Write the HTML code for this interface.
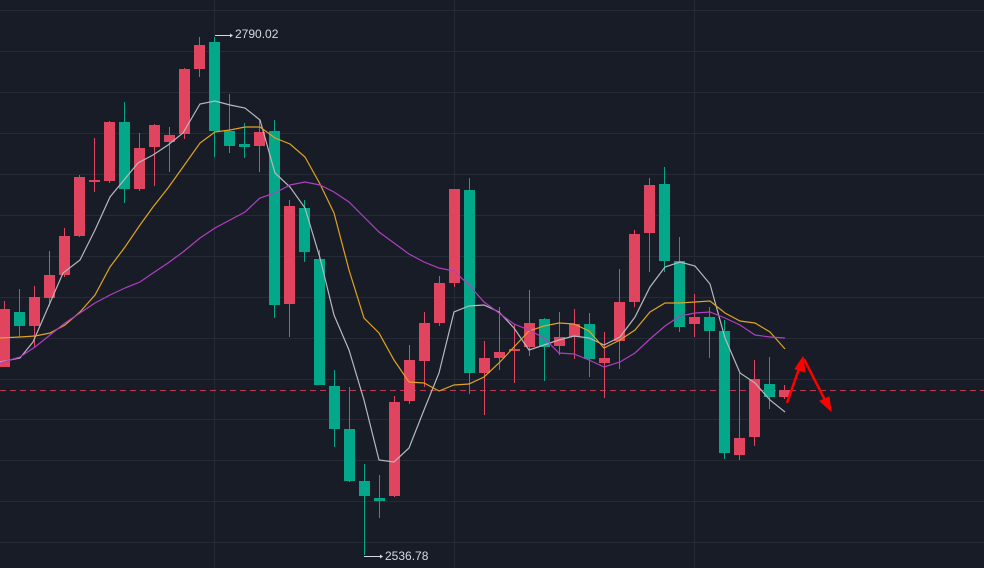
<!DOCTYPE html>
<html><head><meta charset="utf-8"><style>
html,body{margin:0;padding:0;background:#171c27;}
svg{display:block;}
text{font-family:"Liberation Sans",sans-serif;font-size:12px;fill:#d6d9de;}
</style></head><body>
<svg width="984" height="568" viewBox="0 0 984 568" xmlns="http://www.w3.org/2000/svg">
<rect width="984" height="568" fill="#171c27"/>
<g stroke="#242a36" stroke-width="1">
<line x1="0" y1="10.5" x2="984" y2="10.5"/><line x1="0" y1="51.5" x2="984" y2="51.5"/>
<line x1="0" y1="92.5" x2="984" y2="92.5"/><line x1="0" y1="133.5" x2="984" y2="133.5"/>
<line x1="0" y1="174.5" x2="984" y2="174.5"/><line x1="0" y1="215.5" x2="984" y2="215.5"/>
<line x1="0" y1="256.5" x2="984" y2="256.5"/><line x1="0" y1="297.5" x2="984" y2="297.5"/>
<line x1="0" y1="338.5" x2="984" y2="338.5"/><line x1="0" y1="379.5" x2="984" y2="379.5"/>
<line x1="0" y1="419.5" x2="984" y2="419.5"/><line x1="0" y1="460.5" x2="984" y2="460.5"/>
<line x1="0" y1="501.5" x2="984" y2="501.5"/><line x1="0" y1="542.5" x2="984" y2="542.5"/>
<line x1="214.5" y1="0" x2="214.5" y2="568"/><line x1="454.5" y1="0" x2="454.5" y2="568"/>
<line x1="694.5" y1="0" x2="694.5" y2="568"/>
</g>
<line x1="0" y1="390.5" x2="984" y2="390.5" stroke="#b8394f" stroke-width="1" stroke-dasharray="6,4"/>
<g fill="#e0445f" stroke="#e0445f">
<line x1="4.5" y1="301" x2="4.5" y2="367"/><rect x="-1" y="309" width="11" height="58" stroke="none"/>
<line x1="34.5" y1="286" x2="34.5" y2="348"/><rect x="29" y="297" width="11" height="29" stroke="none"/>
<line x1="49.5" y1="251" x2="49.5" y2="306"/><rect x="44" y="275" width="11" height="23" stroke="none"/>
<line x1="64.5" y1="228" x2="64.5" y2="277"/><rect x="59" y="236" width="11" height="39" stroke="none"/>
<line x1="79.5" y1="175" x2="79.5" y2="237"/><rect x="74" y="177" width="11" height="59" stroke="none"/>
<line x1="94.5" y1="138" x2="94.5" y2="192"/><rect x="89" y="180" width="11" height="2" stroke="none"/>
<line x1="109.5" y1="121" x2="109.5" y2="183"/><rect x="104" y="122" width="11" height="59" stroke="none"/>
<line x1="139.5" y1="133" x2="139.5" y2="191"/><rect x="134" y="148" width="11" height="41" stroke="none"/>
<line x1="154.5" y1="124" x2="154.5" y2="186"/><rect x="149" y="125" width="11" height="22" stroke="none"/>
<line x1="169.5" y1="127" x2="169.5" y2="172"/><rect x="164" y="135" width="11" height="7" stroke="none"/>
<line x1="184.5" y1="68" x2="184.5" y2="139"/><rect x="179" y="69" width="11" height="65" stroke="none"/>
<line x1="199.5" y1="37" x2="199.5" y2="77"/><rect x="194" y="45" width="11" height="24" stroke="none"/>
<line x1="259.5" y1="120" x2="259.5" y2="172"/><rect x="254" y="132" width="11" height="14" stroke="none"/>
<line x1="289.5" y1="200" x2="289.5" y2="337"/><rect x="284" y="206" width="11" height="98" stroke="none"/>
<line x1="394.5" y1="396" x2="394.5" y2="497"/><rect x="389" y="402" width="11" height="94" stroke="none"/>
<line x1="409.5" y1="345" x2="409.5" y2="404"/><rect x="404" y="360" width="11" height="41" stroke="none"/>
<line x1="424.5" y1="312" x2="424.5" y2="387"/><rect x="419" y="323" width="11" height="38" stroke="none"/>
<line x1="439.5" y1="276" x2="439.5" y2="326"/><rect x="434" y="283" width="11" height="40" stroke="none"/>
<line x1="454.5" y1="189" x2="454.5" y2="287"/><rect x="449" y="189" width="11" height="94" stroke="none"/>
<line x1="484.5" y1="341" x2="484.5" y2="415"/><rect x="479" y="358" width="11" height="15" stroke="none"/>
<line x1="499.5" y1="307" x2="499.5" y2="370"/><rect x="494" y="352" width="11" height="6" stroke="none"/>
<line x1="514.5" y1="324" x2="514.5" y2="383"/><rect x="509" y="349" width="11" height="2" stroke="none"/>
<line x1="529.5" y1="290" x2="529.5" y2="356"/><rect x="524" y="323" width="11" height="24" stroke="none"/>
<line x1="559.5" y1="312" x2="559.5" y2="355"/><rect x="554" y="337" width="11" height="9" stroke="none"/>
<line x1="574.5" y1="309" x2="574.5" y2="359"/><rect x="569" y="324" width="11" height="13" stroke="none"/>
<line x1="604.5" y1="332" x2="604.5" y2="398"/><rect x="599" y="358" width="11" height="5" stroke="none"/>
<line x1="619.5" y1="269" x2="619.5" y2="369"/><rect x="614" y="302" width="11" height="39" stroke="none"/>
<line x1="634.5" y1="230" x2="634.5" y2="307"/><rect x="629" y="234" width="11" height="68" stroke="none"/>
<line x1="649.5" y1="178" x2="649.5" y2="272"/><rect x="644" y="185" width="11" height="48" stroke="none"/>
<line x1="694.5" y1="294" x2="694.5" y2="337"/><rect x="689" y="317" width="11" height="7" stroke="none"/>
<line x1="739.5" y1="373" x2="739.5" y2="460"/><rect x="734" y="438" width="11" height="17" stroke="none"/>
<line x1="754.5" y1="360" x2="754.5" y2="446"/><rect x="749" y="379" width="11" height="58" stroke="none"/>
<line x1="784.5" y1="385" x2="784.5" y2="399"/><rect x="779" y="390" width="11" height="7" stroke="none"/>
</g>
<g fill="#03a88a" stroke="#03a88a">
<line x1="19.5" y1="289" x2="19.5" y2="337"/><rect x="14" y="312" width="11" height="14" stroke="none"/>
<line x1="124.5" y1="102" x2="124.5" y2="203"/><rect x="119" y="122" width="11" height="67" stroke="none"/>
<line x1="214.5" y1="37" x2="214.5" y2="157"/><rect x="209" y="42" width="11" height="89" stroke="none"/>
<line x1="229.5" y1="94" x2="229.5" y2="153"/><rect x="224" y="131" width="11" height="15" stroke="none"/>
<line x1="244.5" y1="123" x2="244.5" y2="158"/><rect x="239" y="144" width="11" height="3" stroke="none"/>
<line x1="274.5" y1="120" x2="274.5" y2="318"/><rect x="269" y="131" width="11" height="174" stroke="none"/>
<line x1="304.5" y1="200" x2="304.5" y2="262"/><rect x="299" y="208" width="11" height="44" stroke="none"/>
<line x1="319.5" y1="250" x2="319.5" y2="385"/><rect x="314" y="259" width="11" height="126" stroke="none"/>
<line x1="334.5" y1="370" x2="334.5" y2="447"/><rect x="329" y="386" width="11" height="43" stroke="none"/>
<line x1="349.5" y1="387" x2="349.5" y2="482"/><rect x="344" y="429" width="11" height="52" stroke="none"/>
<line x1="364.5" y1="464" x2="364.5" y2="555"/><rect x="359" y="481" width="11" height="15" stroke="none"/>
<line x1="379.5" y1="475" x2="379.5" y2="518"/><rect x="374" y="498" width="11" height="3" stroke="none"/>
<line x1="469.5" y1="178" x2="469.5" y2="394"/><rect x="464" y="190" width="11" height="183" stroke="none"/>
<line x1="544.5" y1="318" x2="544.5" y2="381"/><rect x="539" y="319" width="11" height="28" stroke="none"/>
<line x1="589.5" y1="313" x2="589.5" y2="377"/><rect x="584" y="324" width="11" height="35" stroke="none"/>
<line x1="664.5" y1="167" x2="664.5" y2="272"/><rect x="659" y="184" width="11" height="77" stroke="none"/>
<line x1="679.5" y1="237" x2="679.5" y2="332"/><rect x="674" y="261" width="11" height="66" stroke="none"/>
<line x1="709.5" y1="307" x2="709.5" y2="358"/><rect x="704" y="317" width="11" height="14" stroke="none"/>
<line x1="724.5" y1="320" x2="724.5" y2="459"/><rect x="719" y="331" width="11" height="122" stroke="none"/>
<line x1="769.5" y1="357" x2="769.5" y2="409"/><rect x="764" y="384" width="11" height="13" stroke="none"/>
</g>
<polyline fill="none" stroke="#b6b8bd" stroke-width="1.2" points="0,362 20,358 33,342 63,273 80,260 95,230 110,197 138,163 153,155 168,145 183,133 200,104 215,101 230,105 245,108 260,120 275,173 290,187 305,208 320,258 334,315 349,350 364,400 379,460 394,462 409,448 424,410 439,373 454,312 469,306 484,305 499,312 514,328 529,350 544,345 559,340 574,336 589,338 604,345 620,337 635,317 650,287 665,267 680,262 695,266 710,284 725,338 740,373 755,383 770,400 785,412"/>
<polyline fill="none" stroke="#e0a321" stroke-width="1.2" points="0,338 20,337 35,336 50,333 65,325 80,312 95,295 110,267 125,247 140,225 153,207 168,188 183,167 200,143 215,132 230,130 245,127 260,127 275,138 290,144 305,157 320,184 334,213 349,270 364,318 379,333 394,360 409,382 424,383 439,391 454,385 469,384 484,377 499,363 514,347 529,331 544,326 559,323 574,324 589,331 604,348 620,340 635,330 650,312 665,303 680,303 695,302 710,301 725,313 740,321 755,323 770,332 785,349"/>
<polyline fill="none" stroke="#b03fc0" stroke-width="1.2" points="0,363 20,357 35,347 50,335 65,323 80,313 95,303 110,295 125,288 140,282 153,273 168,263 183,252 200,238 215,228 230,220 245,212 260,198 275,193 290,185 305,182 320,185 334,192 349,202 364,217 379,232 394,243 409,254 424,262 439,268 454,271 469,285 484,302 499,313 514,324 529,330 544,338 559,353 574,354 589,360 604,367 620,362 635,353 650,339 665,326 680,316 695,313 710,312 725,318 740,325 755,335 770,337 785,338"/>
<line x1="215" y1="35.5" x2="230" y2="35.5" stroke="#d6d9de"/><polygon points="230,33.5 233,35.5 230,37.5" fill="#d6d9de"/>
<text x="235" y="38">2790.02</text>
<line x1="364" y1="556.5" x2="380" y2="556.5" stroke="#d6d9de"/><polygon points="380,554.5 383,556.5 380,558.5" fill="#d6d9de"/>
<text x="385" y="560">2536.78</text>
<g stroke="#ff0000" stroke-width="2.5" fill="#ff0000">
<line x1="787" y1="403" x2="800" y2="366"/>
<polygon points="803,357 805,372 795,369" stroke-width="1"/>
<line x1="804" y1="359" x2="826" y2="402"/>
<polygon points="831,411 820,401 829,397" stroke-width="1"/>
</g>
</svg>
</body></html>
